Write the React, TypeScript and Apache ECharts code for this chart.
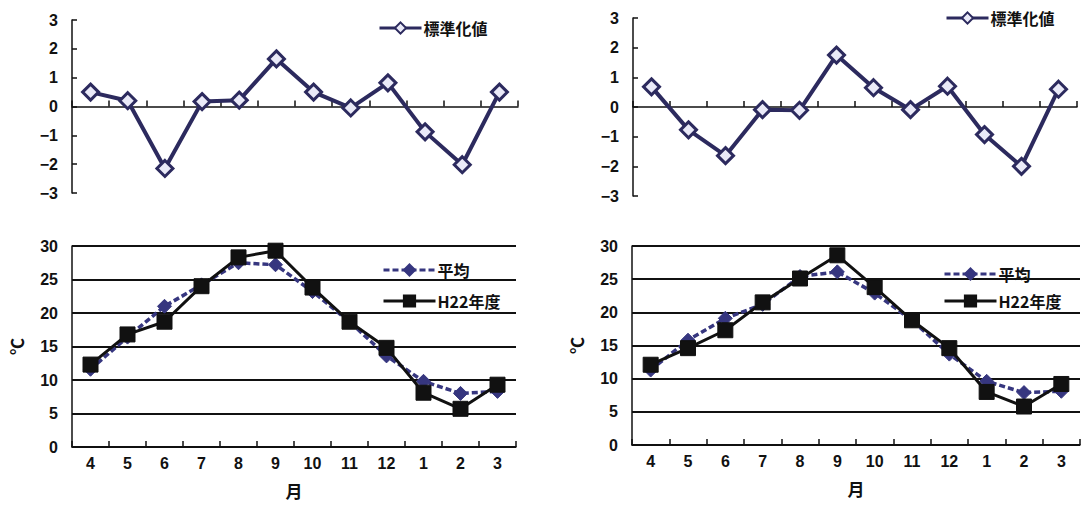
import React, { useEffect, useRef } from "react";
import * as echarts from "echarts";

// Months of the fiscal year (April to March)
const months = ["4", "5", "6", "7", "8", "9", "10", "11", "12", "1", "2", "3"];

// Standardised values (upper panels)
const stdLeft = [0.5, 0.2, -2.15, 0.17, 0.22, 1.65, 0.5, -0.05, 0.82, -0.88, -2.02, 0.5];
const stdRight = [0.68, -0.77, -1.64, -0.09, -0.11, 1.75, 0.65, -0.09, 0.7, -0.93, -2.0, 0.6];

// Monthly temperatures in °C (lower panels)
const avgLeft = [11.6, 16.4, 21.0, 24.2, 27.5, 27.2, 23.2, 18.7, 13.6, 9.8, 8.0, 8.3];
const h22Left = [12.3, 16.8, 18.7, 24.0, 28.3, 29.3, 23.8, 18.7, 14.8, 8.1, 5.7, 9.3];
const avgRight = [11.3, 15.8, 19.1, 21.2, 25.4, 26.1, 22.9, 18.8, 13.7, 9.6, 7.9, 8.1];
const h22Right = [12.1, 14.6, 17.3, 21.5, 25.1, 28.6, 23.8, 18.8, 14.6, 8.0, 5.8, 9.2];

const STD_NAME = "標準化値";
const AVG_NAME = "平均";
const H22_NAME = "H22年度";

const NAVY = "#2c2a5e";
const AVG_COLOR = "#36367f";
const NUM_FONT = "'Liberation Sans', Arial, sans-serif";
const JP_FONT = "'Noto Sans CJK JP', sans-serif";

const numLabel = {
  color: "#111",
  fontSize: 16,
  fontWeight: "bold" as const,
  fontFamily: NUM_FONT,
};

const minusFmt = (v: number) => (v < 0 ? "\u2212" + Math.abs(v) : String(v));

function stdAxes(gridIndex: number) {
  const x = {
    type: "category",
    gridIndex,
    data: months,
    axisLine: { onZero: true, lineStyle: { color: "#111", width: 1.5 } },
    axisTick: { show: true, inside: true, length: 6, lineStyle: { color: "#111", width: 1.5 } },
    axisLabel: { show: false },
    splitLine: { show: false },
  };
  const y = {
    type: "value",
    gridIndex,
    min: -3,
    max: 3,
    interval: 1,
    axisLine: { show: true, lineStyle: { color: "#111", width: 1.5 } },
    axisTick: { show: true, inside: true, length: 5, lineStyle: { color: "#111", width: 1.5 } },
    axisLabel: { ...numLabel, margin: 14, formatter: minusFmt },
    splitLine: { show: false },
  };
  return { x, y };
}

function tempAxes(gridIndex: number) {
  const x = {
    type: "category",
    gridIndex,
    data: months,
    name: "月",
    nameLocation: "middle",
    nameGap: 35,
    nameTextStyle: { color: "#111", fontSize: 17, fontWeight: "bold", fontFamily: JP_FONT },
    axisLine: { lineStyle: { color: "#111", width: 1.5 } },
    axisTick: { show: true, inside: true, length: 6, lineStyle: { color: "#111", width: 1.5 } },
    axisLabel: { ...numLabel, margin: 8 },
    splitLine: { show: false },
  };
  const y = {
    type: "value",
    gridIndex,
    min: 0,
    max: 30,
    interval: 5,
    name: "℃",
    nameLocation: "middle",
    nameRotate: 90,
    nameGap: 47,
    nameTextStyle: { color: "#111", fontSize: 17, fontWeight: "bold", fontFamily: JP_FONT },
    axisLine: { show: true, lineStyle: { color: "#111", width: 1.5 } },
    axisTick: { show: false },
    axisLabel: { ...numLabel, margin: 14 },
    splitLine: { show: true, lineStyle: { color: "#111", width: 2 } },
  };
  return { x, y };
}

function stdSeries(data: number[], idx: number) {
  return {
    name: STD_NAME,
    type: "line",
    xAxisIndex: idx,
    yAxisIndex: idx,
    data,
    symbol: "diamond",
    symbolSize: 16,
    lineStyle: { color: NAVY, width: 4 },
    itemStyle: { color: "#eaeaf8", borderColor: NAVY, borderWidth: 3 },
    z: 3,
  };
}

function avgSeries(data: number[], idx: number) {
  return {
    name: AVG_NAME,
    type: "line",
    xAxisIndex: idx,
    yAxisIndex: idx,
    data,
    symbol: "diamond",
    symbolSize: 14,
    lineStyle: { color: AVG_COLOR, width: 3.5, type: [6, 3] },
    itemStyle: { color: AVG_COLOR, borderColor: AVG_COLOR, borderWidth: 1 },
    z: 3,
  };
}

function h22Series(data: number[], idx: number) {
  return {
    name: H22_NAME,
    type: "line",
    xAxisIndex: idx,
    yAxisIndex: idx,
    data,
    symbol: "rect",
    symbolSize: 15,
    lineStyle: { color: "#111", width: 3 },
    itemStyle: { color: "#111", borderColor: "#111", borderWidth: 1 },
    z: 4,
  };
}

const legendText = {
  color: "#111",
  fontSize: 16,
  fontWeight: "bold" as const,
  fontFamily: JP_FONT,
  padding: [0, 0, 0, -3],
};

const legendLine = { width: 3 };

export default function App() {
  const ref = useRef<HTMLDivElement>(null);

  useEffect(() => {
    if (!ref.current) return;
    const chart = echarts.init(ref.current, undefined, { renderer: "svg" });

    const a0 = stdAxes(0);
    const a1 = stdAxes(1);
    const a2 = tempAxes(2);
    const a3 = tempAxes(3);

    chart.setOption({
      animation: false,
      backgroundColor: "#ffffff",
      grid: [
        { left: 72, top: 20, width: 446, height: 173 },
        { left: 633, top: 18, width: 444, height: 178 },
        { left: 72, top: 246, width: 444, height: 201 },
        { left: 632, top: 246, width: 448, height: 199 },
      ],
      xAxis: [a0.x, a1.x, a2.x, a3.x],
      yAxis: [a0.y, a1.y, a2.y, a3.y],
      legend: [
        {
          data: [STD_NAME],
          left: 373,
          top: 15,
          itemWidth: 42,
          itemHeight: 14,
          lineStyle: legendLine,
          textStyle: legendText,
          selectedMode: false,
        },
        {
          data: [STD_NAME],
          left: 940,
          top: 5,
          itemWidth: 42,
          itemHeight: 14,
          lineStyle: legendLine,
          textStyle: legendText,
          selectedMode: false,
        },
        {
          data: [AVG_NAME, H22_NAME],
          orient: "vertical",
          left: 377,
          top: 257,
          itemWidth: 52,
          itemHeight: 14,
          itemGap: 15,
          lineStyle: legendLine,
          textStyle: legendText,
          selectedMode: false,
        },
        {
          data: [AVG_NAME, H22_NAME],
          orient: "vertical",
          left: 938,
          top: 261,
          itemWidth: 52,
          itemHeight: 14,
          itemGap: 11,
          lineStyle: legendLine,
          textStyle: legendText,
          selectedMode: false,
        },
      ],
      series: [
        stdSeries(stdLeft, 0),
        stdSeries(stdRight, 1),
        avgSeries(avgLeft, 2),
        h22Series(h22Left, 2),
        avgSeries(avgRight, 3),
        h22Series(h22Right, 3),
      ],
    });

    return () => chart.dispose();
  }, []);

  return (
    <div
      ref={ref}
      style={{ position: "absolute", left: 0, top: 0, width: 1085, height: 508, background: "#fff" }}
    />
  );
}
